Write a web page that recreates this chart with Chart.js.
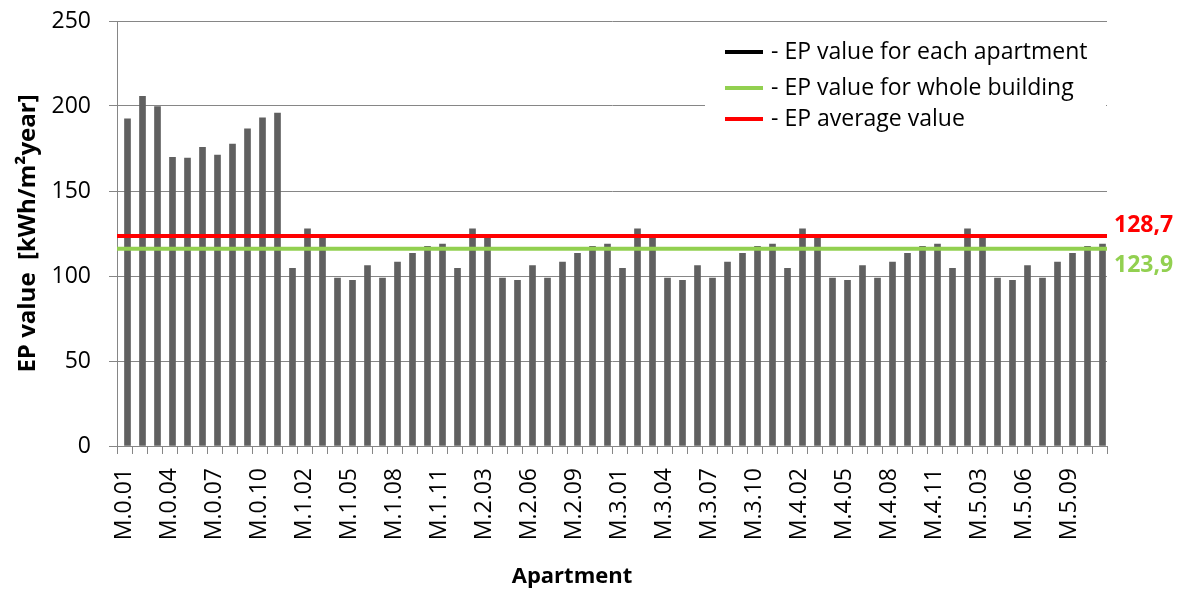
<!DOCTYPE html>
<html>
<head>
<meta charset="utf-8">
<script src="https://cdn.jsdelivr.net/npm/chart.js@4/dist/chart.umd.min.js"></script>
<style>
  body { margin: 0; background: #fff; }
  #wrap { width: 1188px; height: 590px; }
</style>
</head>
<body>
<div id="wrap"><canvas id="epChart"></canvas></div>
<script>
// apartments, floor by floor
const floor0 = ["M.0.01","M.0.02","M.0.03","M.0.04","M.0.05","M.0.06","M.0.07","M.0.08","M.0.09","M.0.10","M.0.11"];
const floor1 = ["M.1.01","M.1.02","M.1.03","M.1.04","M.1.05","M.1.06","M.1.07","M.1.08","M.1.09","M.1.10","M.1.11"];
const floor2 = ["M.2.01","M.2.02","M.2.03","M.2.04","M.2.05","M.2.06","M.2.07","M.2.08","M.2.09","M.2.10","M.2.11"];
const floor3 = ["M.3.01","M.3.02","M.3.03","M.3.04","M.3.05","M.3.06","M.3.07","M.3.08","M.3.09","M.3.10","M.3.11"];
const floor4 = ["M.4.01","M.4.02","M.4.03","M.4.04","M.4.05","M.4.06","M.4.07","M.4.08","M.4.09","M.4.10","M.4.11"];
const floor5 = ["M.5.01","M.5.02","M.5.03","M.5.04","M.5.05","M.5.06","M.5.07","M.5.08","M.5.09","M.5.10","M.5.11"];

// EP values [kWh/m2year]
const ep0 = [192.5, 205.7, 199.6, 169.8, 169.4, 175.7, 171.2, 177.6, 186.5, 193.1, 195.9];
const ep1 = [104.5, 127.8, 122.8, 98.8, 97.4, 106.1, 98.8, 108.2, 113.3, 117.5, 118.8];
const ep2 = [104.5, 127.8, 122.8, 98.8, 97.4, 106.1, 98.8, 108.2, 113.3, 117.5, 118.8];
const ep3 = [104.5, 127.8, 122.8, 98.8, 97.4, 106.1, 98.8, 108.2, 113.3, 117.5, 118.8];
const ep4 = [104.5, 127.8, 122.8, 98.8, 97.4, 106.1, 98.8, 108.2, 113.3, 117.5, 118.8];
const ep5 = [104.5, 127.8, 122.8, 98.8, 97.4, 106.1, 98.8, 108.2, 113.3, 117.5, 118.8];

// horizontal reference lines (where they are drawn) and their printed labels
const avgLine = 123.5;
const buildingLine = 116.1;
const avgText = "128,7";
const buildingText = "123,9";

const yTicks = [0, 50, 100, 150, 200, 250];

const labels = floor0.concat(floor1, floor2, floor3, floor4, floor5);
const values = ep0.concat(ep1, ep2, ep3, ep4, ep5);

const FONT = "'Open Sans', sans-serif";
const GRID = "#868686";

const extras = {
  id: "extras",
  afterDatasetsDraw(chart) {
    const ctx = chart.ctx;
    const y = chart.scales.y;
    const area = chart.chartArea;
    ctx.save();

    // legend box inside plot
    ctx.fillStyle = "#fff";
    ctx.fillRect(705, 29, area.right - 705 - 1, 110);
    const items = [
      ["#000000", "- EP value for each apartment", 52],
      ["#92d050", "- EP value for whole building", 88],
      ["#ff0000", "- EP average value", 119]
    ];
    ctx.font = "23px " + FONT;
    ctx.textBaseline = "middle";
    items.forEach(it => {
      ctx.strokeStyle = it[0];
      ctx.lineWidth = 4;
      ctx.beginPath();
      ctx.moveTo(725, it[2]);
      ctx.lineTo(763, it[2]);
      ctx.stroke();
      ctx.fillStyle = "#000";
      ctx.fillText(it[1], 771, it[2]);
    });

    // value labels right of plot
    ctx.font = "bold 23px " + FONT;
    ctx.fillStyle = "#ff0000";
    ctx.fillText(avgText, 1114, y.getPixelForValue(avgLine) - 11);
    ctx.fillStyle = "#92d050";
    ctx.fillText(buildingText, 1114, y.getPixelForValue(buildingLine) + 17);

    // axis titles
    ctx.fillStyle = "#000";
    ctx.font = "bold 22px " + FONT;
    ctx.textAlign = "center";
    ctx.fillText("Apartment", 572, 577);
    ctx.font = "bold 24px " + FONT;
    ctx.translate(28, (area.top + area.bottom) / 2);
    ctx.rotate(-Math.PI / 2);
    ctx.fillText("EP value  [kWh/m\u00b2year]", 0, 0);
    ctx.restore();
  }
};

new Chart("epChart", {
  type: "bar",
  data: {
    labels: labels,
    datasets: [{
      type: "line",
      xAxisID: "x2",
      data: [{x: 0, y: avgLine}, {x: 1, y: avgLine}],
      borderColor: "#ff0000",
      borderWidth: 4,
      pointRadius: 0,
      order: 1
    }, {
      type: "line",
      xAxisID: "x2",
      data: [{x: 0, y: buildingLine}, {x: 1, y: buildingLine}],
      borderColor: "#92d050",
      borderWidth: 4,
      pointRadius: 0,
      order: 1
    }, {
      data: values,
      backgroundColor: "#606060",
      barThickness: 6,
      order: 2
    }]
  },
  options: {
    responsive: true,
    maintainAspectRatio: false,
    animation: false,
    layout: {padding: {top: 21, right: 81, left: 0, bottom: 0}},
    plugins: {
      legend: {display: false},
      tooltip: {enabled: false}
    },
    scales: {
      x: {
        afterFit: s => { s.height = 144; },
        grid: {display: true, drawOnChartArea: false, drawTicks: true, tickLength: 8, color: GRID, offset: true},
        border: {display: true, color: GRID},
        ticks: {
          autoSkip: false,
          maxRotation: 90,
          minRotation: 90,
          padding: 14,
          color: "#000",
          font: {family: FONT, size: 23},
          callback: (v, i) => i % 3 === 0 ? labels[i] : ""
        }
      },
      x2: {type: "linear", min: 0, max: 1, offset: false, display: false},
      y: {
        min: 0,
        max: 250,
        afterFit: s => { s.width = 117; s.paddingTop = 10; s.paddingBottom = 0; },
        afterBuildTicks: s => { s.ticks = yTicks.map(v => ({value: v})); },
        grid: {color: GRID, tickLength: 8, drawTicks: true},
        border: {display: true, color: GRID},
        ticks: {
          padding: 18,
          color: "#000",
          font: {family: FONT, size: 23}
        }
      }
    }
  },
  plugins: [extras]
});
</script>
</body>
</html>
